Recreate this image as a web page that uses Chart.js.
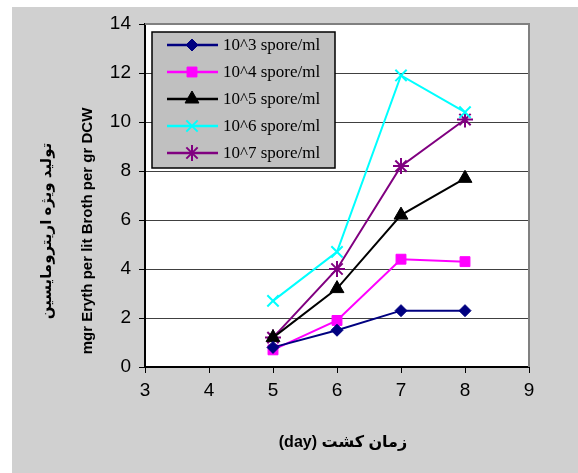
<!DOCTYPE html>
<html>
<head>
<meta charset="utf-8">
<script src="https://cdn.jsdelivr.net/npm/chart.js@4"></script>
<style>
  html, body { margin: 0; padding: 0; background: #fff; }
  #wrap { width: 578px; height: 473px; }
</style>
</head>
<body>
<div id="wrap"><canvas id="chart" width="578" height="473"></canvas></div>
<script>
// culture day
var days = [5, 6, 7, 8];
var seriesNames = ['10^3 spore/ml', '10^4 spore/ml', '10^5 spore/ml', '10^6 spore/ml', '10^7 spore/ml'];
var spore3 = [0.8, 1.5, 2.3, 2.3];
var spore4 = [0.7, 1.9, 4.4, 4.3];
var spore5 = [1.2, 3.2, 6.2, 7.7];
var spore6 = [2.7, 4.7, 11.9, 10.4];
var spore7 = [1.2, 4.0, 8.2, 10.1];
var xTicks = [3, 4, 5, 6, 7, 8, 9];
var yTicks = [0, 2, 4, 6, 8, 10, 12, 14];

var yTitle = ['تولید ویژه اریترومایسین', 'mgr Eryth per lit Broth per gr DCW'];
var xTitle = 'زمان کشت (day)';

function pts(vals) {
    return vals.map(function (v, i) { return { x: days[i], y: v }; });
}

var styles = [
    { color: '#000080', point: 'rectRot', r: 6 },
    { color: '#ff00ff', point: 'rect', r: 7 },
    { color: '#000000', point: 'triangle', r: 8 },
    { color: '#00ffff', point: 'crossRot', r: 8 },
    { color: '#800080', point: 'star', r: 8 }
];
var allSeries = [spore3, spore4, spore5, spore6, spore7];

var datasets = allSeries.map(function (vals, i) {
    var st = styles[i];
    var crossy = st.point === 'crossRot' || st.point === 'star';
    return {
        label: seriesNames[i],
        data: pts(vals),
        borderColor: st.color,
        backgroundColor: st.color,
        borderWidth: 2,
        pointStyle: st.point,
        pointRadius: st.r,
        pointBorderWidth: crossy ? 2 : 1,
        pointBackgroundColor: st.color,
        pointBorderColor: st.color,
        tension: 0
    };
});

// background, frame, titles and legend box
var decor = {
    id: 'decor',
    beforeDraw: function (chart) {
        var ctx = chart.ctx, a = chart.chartArea;
        ctx.save();
        ctx.fillStyle = '#ffffff';
        ctx.fillRect(0, 0, chart.width, chart.height);
        ctx.fillStyle = '#d0d0d0';
        ctx.fillRect(12, 7, chart.width - 12, chart.height - 7);
        ctx.fillStyle = '#ffffff';
        ctx.fillRect(a.left, a.top, a.right - a.left, a.bottom - a.top);
        ctx.restore();
    },
    afterDatasetsDraw: function (chart) {
        var ctx = chart.ctx, a = chart.chartArea;
        ctx.save();
        // gray frame top/right
        ctx.strokeStyle = '#808080';
        ctx.lineWidth = 2;
        ctx.beginPath();
        ctx.moveTo(a.left, a.top);
        ctx.lineTo(a.right, a.top);
        ctx.lineTo(a.right, a.bottom);
        ctx.stroke();

        // y title
        ctx.fillStyle = '#000';
        ctx.font = 'bold 15px "Liberation Sans", "DejaVu Sans", sans-serif';
        ctx.textAlign = 'center';
        ctx.textBaseline = 'middle';
        ctx.translate(47, 231);
        ctx.rotate(-Math.PI / 2);
        ctx.direction = 'rtl';
        ctx.fillText(yTitle[0], 0, 0);
        ctx.direction = 'ltr';
        ctx.fillText(yTitle[1], 0, 41);
        ctx.restore();

        // x title
        ctx.save();
        ctx.fillStyle = '#000';
        ctx.font = 'bold 16px "Liberation Sans", "DejaVu Sans", sans-serif';
        ctx.textAlign = 'center';
        ctx.textBaseline = 'middle';
        ctx.direction = 'rtl';
        ctx.fillText(xTitle, 343, 443);
        ctx.restore();

        // legend
        ctx.save();
        ctx.fillStyle = '#c0c0c0';
        ctx.fillRect(152, 32, 183, 136);
        ctx.strokeStyle = '#000';
        ctx.lineWidth = 1.5;
        ctx.strokeRect(152, 32, 183, 136);
        ctx.font = '17px "Liberation Serif", "Times New Roman", serif';
        ctx.textAlign = 'left';
        ctx.textBaseline = 'middle';
        chart.data.datasets.forEach(function (ds, i) {
            var y = 45 + i * 27;
            ctx.strokeStyle = ds.borderColor;
            ctx.lineWidth = 2.5;
            ctx.beginPath();
            ctx.moveTo(167, y);
            ctx.lineTo(218, y);
            ctx.stroke();
            ctx.fillStyle = ds.borderColor;
            ctx.strokeStyle = ds.borderColor;
            ctx.lineWidth = ds.pointBorderWidth;
            Chart.helpers.drawPoint(ctx, { pointStyle: ds.pointStyle, radius: ds.pointRadius, borderWidth: ds.pointBorderWidth }, 192, y);
            ctx.fillStyle = '#000';
            ctx.fillText(ds.label, 223, y + 1);
        });
        ctx.restore();
    }
};

var ctx = document.getElementById('chart');
var chart = new Chart(ctx, {
    type: 'line',
    data: { datasets: datasets },
    options: {
        responsive: false,
        animation: false,
        layout: { padding: { left: 0, top: 24, right: 49, bottom: 0 } },
        plugins: {
            legend: { display: false },
            tooltip: { enabled: false }
        },
        scales: {
            x: {
                type: 'linear',
                min: 3,
                max: 9,
                afterFit: function (s) { s.height = 106; },
                afterBuildTicks: function (s) { s.ticks = xTicks.map(function (v) { return { value: v }; }); },
                ticks: {
                    color: '#000',
                    padding: 6,
                    font: { family: 'Liberation Sans', size: 19 }
                },
                grid: { drawOnChartArea: false, drawTicks: true, tickLength: 6, color: '#000' },
                border: { color: '#000', width: 2 }
            },
            y: {
                min: 0,
                max: 14,
                afterFit: function (s) { s.width = 145; },
                afterBuildTicks: function (s) { s.ticks = yTicks.map(function (v) { return { value: v }; }); },
                ticks: {
                    color: '#000',
                    padding: 8,
                    font: { family: 'Liberation Sans', size: 19 }
                },
                grid: { color: '#404040', lineWidth: 1, tickLength: 6, tickColor: '#000' },
                border: { color: '#000', width: 2 }
            }
        }
    },
    plugins: [decor]
});
</script>
</body>
</html>
